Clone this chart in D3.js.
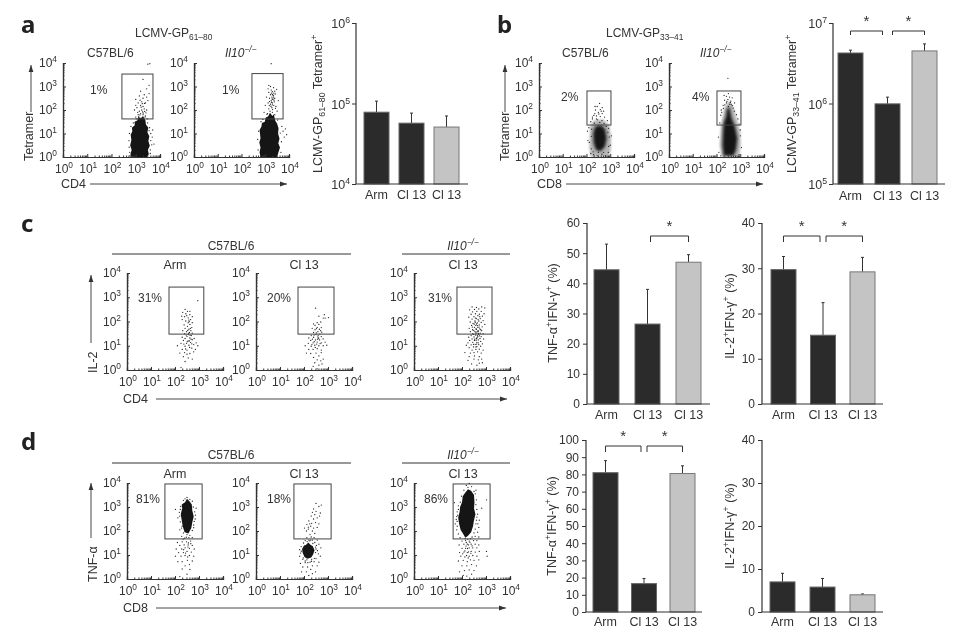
<!DOCTYPE html>
<html><head><meta charset="utf-8">
<script src="https://cdn.jsdelivr.net/npm/d3@7"></script>
<style>html,body{margin:0;padding:0;background:#fff}svg{display:block;filter:blur(.3px)}text{font-family:"Liberation Sans",Arial,sans-serif;fill:#333}</style>
</head><body><svg id="c" width="964" height="644"></svg>
<script>
// ---------- bar data ----------
const categories=["Arm","Cl 13","Cl 13"];
const aValues=[78000,57000,51000], aErr=[107000,76000,70000];
const bValues=[4240000,990000,4500000], bErr=[4600000,1200000,5500000];
const cTnfValues=[44.5,26.5,47], cTnfErr=[53,38,49.5];
const cIl2Values=[29.7,15.2,29.2], cIl2Err=[32.6,22.4,32.4];
const dTnfValues=[81,16.5,80.5], dTnfErr=[88,19.5,85];
const dIl2Values=[7,5.8,4], dIl2Err=[9,7.8,4.2];
const decadeTicks=[1,10,100,1000,10000];
const minorMultipliers=[2,3,4,5,6,7,8,9];
// ---------- flow plots, log10 coordinates ----------
const a1Core=[[2.82,0],[2.78,.12],[2.83,.3],[2.77,.5],[2.82,.72],[2.79,.95],[2.86,1.1],[2.84,1.25],[2.96,1.35],[2.95,1.5],[3.06,1.55],[3.1,1.7],[3.22,1.66],[3.3,1.74],[3.4,1.55],[3.42,1.38],[3.52,1.25],[3.48,1.05],[3.56,.88],[3.52,.68],[3.58,.48],[3.5,.3],[3.54,.12],[3.46,0]];
const a1Pts=[[3,1.7],[3.1,1.8],[3.2,1.85],[3.3,1.8],[3.4,1.75],[3.15,1.95],[3.25,2],[3.35,2.05],[3.05,2.1],[3.3,2.15],[3.2,2.2],[2.95,2],[3.45,2],[3.1,2.3],[3.25,2.35],[3.4,2.3],[3.5,2.4],[3,2.45],[3.3,2.5],[3.45,2.55],[3.15,2.6],[3.35,2.65],[3.55,2.7],[3.2,2.8],[3.45,2.9],[3.55,3.05],[3.5,3.95],[3.58,3.97],[3.3,3.3],[2.75,.2],[2.72,.7],[2.74,1],[2.8,1.3],[2.9,1.45],[3.6,.3],[3.62,.7],[3.62,1],[3.57,1.25],[3.49,1.45],[3.68,.85],[3.75,.55],[3.7,1.15],[3.38,1.7],[3.12,1.72],[3.22,2.12],[3.18,2.42],[3.36,2.28],[3.28,1.92],[3.42,1.88],[3.08,1.9],[3,2.2],[3.6,.15],[2.76,.05],[3.02,1.62],[3.47,1.62],[2.88,1.22],[3.55,1.12],[2.73,.42],[3.66,.52],[3.27,2.27],[3.31,1.87],[3.17,1.79],[3.37,1.94]];
const a2Core=[[2.8,0],[2.76,.2],[2.8,.4],[2.75,.62],[2.8,.8],[2.76,1.15],[2.84,1.3],[2.86,1.45],[2.98,1.5],[3.02,1.68],[3.12,1.72],[3.2,1.88],[3.3,1.74],[3.36,1.82],[3.42,1.55],[3.5,1.42],[3.56,1.22],[3.54,1],[3.6,.78],[3.55,.58],[3.62,.4],[3.54,.15],[3.5,0]];
const a2Pts=[[3.1,1.85],[3.2,1.95],[3.3,1.9],[3.4,1.8],[3.15,2.05],[3.28,2.1],[3.36,2.2],[3.22,2.25],[3.3,2.3],[3.38,2.35],[3.12,2.3],[3.45,2.15],[3.25,2.4],[3.32,2.45],[3.18,2.5],[3.4,2.5],[3.28,2.55],[3.35,2.6],[3.3,2.66],[3.22,2.65],[3.42,2.68],[3.15,2.75],[3.3,2.78],[3.4,2.8],[3.25,2.85],[3.48,2.88],[3.12,2.9],[3.35,2.95],[3.22,3],[3.05,2.55],[3,2.2],[2.95,1.9],[3.5,1.95],[3.55,2.4],[3.25,3.97],[3.15,3.05],[3.3,2.22],[3.34,2.52],[3.26,2.72],[3.36,2.72],[3.31,2.02],[3.24,2.16],[3.18,2.36],[3.8,.85],[3.75,1.1],[3.85,1.2],[3.9,.95],[3.68,.65],[3.7,1.3],[2.7,.3],[2.68,.75],[2.72,1.1],[2.82,1.5],[3.66,.2],[3.33,2.63],[3.29,2.47],[3.37,2.42],[3.26,2.33],[3.43,2.07],[3.17,2.19],[3.07,1.82],[3.52,1.57],[2.9,1.6],[3.63,1.02]];
const b1Halo=[[2.18,0],[2.12,.4],[2.14,.9],[2.15,1.3],[2.3,1.55],[2.7,1.6],[2.96,1.35],[3.04,.8],[3.02,.3],[2.95,0]];
const b1Core=[[2.4,.3],[2.3,.6],[2.28,1],[2.36,1.3],[2.6,1.36],[2.78,1.2],[2.85,.8],[2.78,.45],[2.6,.25]];
const b1Pts=[[2.25,1.7],[2.42,1.75],[2.58,1.72],[2.35,1.85],[2.5,1.9],[2.66,1.85],[2.38,2],[2.58,2.02],[2.45,2.15],[2.66,2.1],[2.55,2.28],[2.36,2.15],[2.72,1.95],[2.18,1.5],[2.88,1.55],[2.25,1.62],[2.76,1.7],[2.18,.15],[2.3,.1],[2.45,.05],[2.65,.12],[2.8,.05],[2.92,.2],[3,.5],[3.05,.9],[2.06,.7],[2.04,1.1],[2.5,.2],[2.2,.35],[2.9,1.05],[2.96,.85],[2.93,.45],[2.1,1.25],[2.42,1.62],[2.62,1.95],[2.28,.22],[2.72,.2],[2.12,.62],[2.2,.88],[2.93,1.22],[2.22,1.18],[2.56,1.47],[2.33,1.44],[2.74,1.42],[2.83,1.3],[2.47,1.58],[2.65,1.55],[2.52,1.83],[2.31,1.77]];
const b2Halo=[[2.22,0],[2.14,.5],[2.18,1.2],[2.26,1.7],[2.34,2.1],[2.52,2.4],[2.72,2.1],[2.86,1.6],[3,1.05],[3.02,.5],[2.95,0]];
const b2Core=[[2.3,.05],[2.25,.5],[2.27,1],[2.3,1.45],[2.4,1.72],[2.44,2.05],[2.55,2.12],[2.64,1.65],[2.78,1.3],[2.88,.8],[2.82,.3],[2.72,.05]];
const b2Pts=[[2.28,2.2],[2.42,2.3],[2.56,2.25],[2.66,2.18],[2.34,2.42],[2.48,2.45],[2.6,2.38],[2.76,2.3],[2.42,2.58],[2.55,2.55],[2.32,2.62],[2.66,2.52],[2.5,2.7],[2.48,3.35],[2.22,1.9],[2.84,1.8],[2.2,2],[2.14,1.45],[2.95,1.4],[3,.9],[3.05,.4],[2.1,.2],[2.08,.85],[2.95,.1],[2.18,.05],[2.35,2.22],[2.5,2.15],[2.58,2.32],[2.9,1.62],[2.75,1.95],[2.18,1.78],[2.7,2.08],[2.44,2.37],[2.29,2.07],[2.62,2.24],[3,1.15]];
const c1Pts=[[2.25,.1],[2.42,.35],[2.35,.55],[2.55,.5],[2.72,.45],[2.2,.7],[2.4,.72],[2.62,.68],[2.78,.75],[2.3,.85],[2.5,.82],[2.7,.9],[2.85,.85],[2.1,1],[2.42,.98],[2.58,1.02],[2.78,1.05],[2.95,1],[2.25,1.1],[2.48,1.1],[2.65,1.14],[2.88,1.12],[2.35,1.22],[2.55,1.2],[2.72,1.25],[2.42,1.3],[2.62,1.32],[2.8,1.3],[2.3,1.35],[2.5,1.38],[2.68,1.42],[2.55,1.46],[2.4,1.5],[2.72,1.52],[2.6,1.55],[2.48,1.58],[2.66,1.62],[2.32,1.62],[2.58,1.68],[2.42,1.72],[2.7,1.75],[2.52,1.8],[2.62,1.88],[2.38,1.86],[2.55,1.95],[2.72,1.95],[2.45,2.02],[2.65,2.08],[2.3,2.08],[2.55,2.15],[2.72,2.2],[2.4,2.2],[2.62,2.28],[2.32,2.38],[2.45,2.32],[2.28,2.22],[2.52,2.42],[2.62,2.42],[2.42,2.5],[2.95,2.86],[2.6,1.2],[2.5,.65],[2.7,1.08],[2.57,1.51],[2.63,1.43],[2.53,1.63],[2.47,1.44],[2.67,1.27],[2.59,2],[2.51,1.17],[2.44,.87],[2.61,.93],[2.37,1.07],[2.64,1.72],[2.49,2.24],[2.58,2.06]];
const c2Pts=[[2.55,.05],[2.38,.15],[2.62,.2],[2.75,.25],[2.45,.3],[2.7,.38],[2.55,.42],[2.8,.45],[2.4,.52],[2.62,.58],[2.1,.7],[2.28,.68],[2.5,.7],[2.72,.72],[2.2,.85],[2.38,.85],[2.55,.88],[2.72,.82],[2.05,1],[2.3,.98],[2.45,1.02],[2.62,1],[2.8,1],[2.95,1.02],[2.18,1.1],[2.38,1.12],[2.55,1.15],[2.72,1.12],[2.88,1.15],[2.28,1.22],[2.48,1.24],[2.65,1.24],[2.8,1.28],[2.2,1.32],[2.4,1.35],[2.58,1.36],[2.72,1.38],[2.3,1.42],[2.5,1.46],[2.66,1.48],[2.4,1.55],[2.58,1.58],[2.74,1.56],[2.46,1.66],[2.64,1.68],[2.34,1.72],[2.55,1.76],[2.72,1.75],[2.46,1.84],[2.62,1.88],[2.4,1.9],[2.55,1.95],[2.7,1.98],[2.8,2.14],[2.62,2.22],[3.02,2.16],[2.88,2.14],[2.48,2.55],[2.85,2.28],[2.43,1.17],[2.53,1.07],[2.35,1.27],[2.61,1.31],[2.67,1.09],[2.47,.93],[2.33,1.05],[2.51,1.53],[2.59,1.43],[2.42,1.44],[2.57,1.27],[2.69,1.62],[2.52,1.71]];
const c3Pts=[[2.4,.25],[2.62,.2],[2.72,.28],[2.85,.3],[2.25,.4],[2.5,.45],[2.68,.42],[2.82,.45],[2.3,.55],[2.52,.58],[2.72,.55],[2.12,.72],[2.35,.7],[2.5,.72],[2.65,.75],[2.8,.7],[2.42,.82],[2.58,.85],[2.72,.86],[2.88,.82],[2.3,.92],[2.48,.95],[2.62,.96],[2.78,.98],[2.18,1.02],[2.38,1.04],[2.55,1.06],[2.7,1.05],[2.85,1.08],[2.25,1.12],[2.45,1.14],[2.62,1.14],[2.78,1.18],[2.32,1.22],[2.52,1.22],[2.68,1.24],[2.42,1.28],[2.6,1.3],[2.75,1.3],[2.9,1.28],[2.28,1.35],[2.5,1.36],[2.66,1.38],[2.8,1.38],[2.38,1.42],[2.56,1.44],[2.7,1.46],[2.45,1.5],[2.62,1.52],[2.76,1.52],[2.88,1.5],[2.35,1.58],[2.54,1.58],[2.68,1.6],[2.82,1.62],[2.44,1.66],[2.6,1.68],[2.74,1.7],[2.3,1.72],[2.52,1.76],[2.66,1.76],[2.84,1.78],[2.4,1.84],[2.58,1.84],[2.72,1.86],[2.95,1.88],[2.46,1.92],[2.64,1.94],[2.8,1.96],[2.34,1.98],[2.54,2.02],[2.7,2.02],[2.88,2.04],[2.42,2.1],[2.6,2.12],[2.76,2.12],[2.28,2.18],[2.5,2.2],[2.66,2.24],[2.85,2.22],[2.38,2.3],[2.56,2.32],[2.72,2.3],[2.92,2.32],[2.44,2.4],[2.62,2.42],[2.8,2.42],[2.32,2.48],[2.52,2.5],[2.7,2.52],[2.95,2.56],[2.6,2.58],[2.42,2.6],[2.82,2.6],[2.58,.95],[2.64,1.42],[2.58,1.7],[2.67,1.62],[2.6,1.9],[2.68,1.12],[2.63,1.33],[2.57,1.53],[2.73,1.41],[2.49,1.63],[2.65,1.83],[2.53,1.27],[2.61,1.07],[2.47,1.47],[2.71,1.77],[2.59,1.23],[2.55,1.97],[2.67,2.08],[2.43,1.77],[2.63,1.58],[2.78,1.66],[2.51,1.89],[2.69,1.51],[2.56,2.14],[2.74,2.2],[2.48,1.06]];
const d1Core=[[2.4,1.95],[2.32,2.2],[2.28,2.45],[2.24,2.7],[2.3,2.95],[2.28,3.1],[2.42,3.2],[2.5,3.34],[2.62,3.22],[2.7,3.1],[2.72,2.85],[2.78,2.6],[2.72,2.35],[2.68,2.12],[2.56,1.9]];
const d1Pts=[[2.2,.1],[2.5,.2],[2.62,.4],[2.3,.42],[2.42,.55],[2.6,.6],[2.12,.72],[2.3,.72],[2.52,.78],[2.72,.75],[2.02,.95],[2.25,.95],[2.42,.98],[2.6,.98],[2.78,.95],[2.15,1.1],[2.35,1.1],[2.5,1.15],[2.68,1.12],[2.05,1.25],[2.28,1.25],[2.42,1.3],[2.6,1.28],[2.8,1.25],[2.2,1.4],[2.38,1.42],[2.55,1.42],[2.72,1.4],[2.1,1.52],[2.3,1.55],[2.48,1.55],[2.65,1.58],[2.4,1.7],[2.58,1.72],[2.72,1.72],[2.28,1.78],[2.5,1.85],[2.62,1.82],[2.35,1.92],[2.45,2],[2.72,2.02],[2.2,2.05],[2.3,2.2],[2.78,2.25],[2.22,2.38],[2.84,2.5],[2.2,2.62],[2.18,2.78],[2.82,2.8],[2.76,3],[2.24,3.02],[2.35,3.28],[2.72,3.24],[2.5,3.4],[2.62,3.32],[2.42,3.34],[2.12,2.55],[2.88,2.95],[2.02,2.9],[2.22,2.9],[2.8,2.4],[2.56,1.5],[2.47,1.74],[2.36,1.22],[2.54,1.33],[2.44,1.08],[2.53,.92],[2.66,1.47],[2.34,1.66],[2.85,2.66],[2.78,2.14],[2.27,2.12]];
const d2Core=[[2.02,.92],[1.94,1.1],[1.92,1.25],[2,1.4],[2.08,1.42],[2.18,1.52],[2.28,1.42],[2.36,1.38],[2.44,1.2],[2.38,1.02],[2.3,.9],[2.14,.84]];
const d2Pts=[[2,.05],[2.2,.15],[2.35,.22],[1.9,.3],[2.1,.3],[2.28,.4],[2.48,.3],[1.95,.5],[2.15,.5],[2.35,.55],[2.55,.55],[1.85,.65],[2.05,.68],[2.25,.7],[2.42,.72],[2.62,.7],[1.95,.82],[2.12,.8],[2.32,.82],[2.5,.85],[1.82,.95],[2.68,.95],[1.86,1.08],[2.48,1.1],[2.6,1.05],[1.82,1.22],[2.5,1.25],[2.7,1.3],[1.88,1.35],[2.52,1.4],[2.62,1.45],[1.98,1.5],[2.45,1.52],[2.05,1.6],[2.2,1.62],[2.35,1.62],[2.55,1.62],[2.12,1.72],[2.3,1.75],[2.42,1.72],[2.25,1.85],[2.45,1.9],[2.1,2],[2.35,2],[2.02,2.12],[2.18,2.16],[2.28,2.2],[2.4,2.12],[2.55,2.15],[2.12,2.28],[2.32,2.32],[2.48,2.35],[2.62,2.3],[2.2,2.42],[2.4,2.5],[2.55,2.55],[2.3,2.62],[2.45,2.68],[2.65,2.62],[2.35,2.78],[2.5,2.82],[2.68,2.75],[2.4,2.92],[2.62,3.02],[2.72,3.08],[2.5,3.15],[2.05,.75],[2.28,1.62],[2.16,.68],[2.31,.74],[1.97,.88],[2.43,.86],[1.89,1.16],[2.56,1.18],[2.48,1.33],[2.13,1.56],[2.24,1.59],[2.37,1.48],[2.18,2.08],[2.24,2.3]];
const d3Core=[[2.05,1.88],[1.94,2.05],[1.88,2.3],[1.84,2.55],[1.9,2.8],[1.92,3],[2,3.2],[2.03,3.45],[2.14,3.6],[2.25,3.74],[2.38,3.68],[2.5,3.5],[2.52,3.2],[2.5,2.95],[2.56,2.7],[2.5,2.45],[2.46,2.2],[2.38,1.95],[2.25,1.8],[2.14,1.72]];
const d3Pts=[[2.05,.15],[2.2,.12],[2.4,.2],[1.9,.3],[2.1,.35],[2.3,.38],[2.5,.35],[2,.55],[2.2,.55],[2.4,.6],[2.6,.55],[1.85,.75],[2.05,.78],[2.22,.72],[2.35,.8],[2.5,.78],[2.7,.8],[1.95,.95],[2.12,.92],[2.3,.95],[2.45,.98],[2.62,.95],[3.05,.95],[1.9,1.1],[2.08,1.12],[2.22,1.1],[2.38,1.15],[2.55,1.12],[2.72,1.15],[3.02,1.15],[2,1.28],[2.15,1.28],[2.3,1.3],[2.45,1.3],[2.62,1.3],[1.88,1.42],[2.08,1.45],[2.22,1.45],[2.38,1.45],[2.55,1.45],[2.7,1.42],[2,1.58],[2.15,1.6],[2.3,1.58],[2.48,1.6],[2.62,1.6],[1.92,1.72],[2.42,1.75],[2.55,1.78],[2.7,1.75],[1.85,1.88],[2.5,1.92],[2.65,1.95],[1.78,2.05],[2.55,2.08],[2.7,2.15],[1.72,2.3],[1.8,2.4],[2.58,2.3],[2.72,2.45],[1.78,2.6],[2.62,2.58],[2.65,2.7],[1.8,2.8],[1.85,2.9],[2.62,2.9],[2.82,2.95],[1.85,3.05],[2.58,3.1],[1.68,3.18],[1.93,3.2],[2.6,3.3],[1.98,3.45],[2.55,3.55],[3.02,3.3],[2.08,3.7],[2.5,3.65],[2.25,3.82],[2.4,3.85],[2.3,3.98],[2.18,3.9],[2.58,3.7],[2.23,1.27],[2.27,1.13],[2.17,1.37],[2.33,1.53],[2.12,1.17],[2.26,.88],[2.18,1.52],[2.37,1.07],[2.13,1.68],[2.24,1.66],[2.36,1.68],[2.42,1.38],[2.03,1.05],[2.27,1.42],[2.19,.98],[1.8,2.2],[1.76,2.48],[2.6,2.45],[2.66,2.3],[1.82,2.66]];
// ---------- gates in log10 coordinates ----------
const gateA1=[2.43,3.71,1.62,3.53],gateA2=[2.44,3.75,1.62,3.55],gateB=[2.02,3.03,1.36,2.81];
const gateC1=[1.75,3.2,1.48,3.42],gateC2=[1.75,3.25,1.48,3.42],gateC3=[1.79,3.25,1.48,3.42];
const gateD1=[1.58,3.13,1.67,3.96],gateD2=[1.58,3.13,1.67,3.96],gateD3=[1.63,3.17,1.67,3.96];

const svg=d3.select("#c"),INK="#333";
function rich(x,y,segs,o={}){
  const t=svg.append("text").attr("x",x).attr("y",y).attr("font-size",o.size||12).attr("text-anchor",o.anchor||"start");
  if(o.rot) t.attr("transform",`rotate(-90 ${x} ${y})`);
  let shift=0;
  segs.forEach(s=>{
    const seg=typeof s==="string"?{t:s}:s, target=seg.sup?-5:seg.sub?3:0;
    const ts=t.append("tspan").text(seg.t).attr("dy",target-shift);
    shift=target;
    if(seg.sup||seg.sub) ts.attr("font-size",(o.size||12)*.7);
    if(seg.it) ts.attr("font-style","italic");
  });
  return t;
}
const il10=[{t:"Il10",it:1},{t:"−/−",sup:1,it:1}];
function arrow(x1,y1,x2,y2){
  svg.append("line").attr("x1",x1).attr("y1",y1).attr("x2",x2).attr("y2",y2).attr("stroke",INK).attr("stroke-width",.9);
  const a=Math.atan2(y2-y1,x2-x1)*180/Math.PI;
  svg.append("path").attr("d","M0,0L-7,-2.4L-7,2.4Z").attr("fill",INK).attr("transform",`translate(${x2},${y2}) rotate(${a})`);
}
function flow(x0,x1,yb,yt,gate,pts,core,halo){
  const sx=d3.scaleLog().domain([1,1e4]).range([x0,x1]), sy=d3.scaleLog().domain([1,1e4]).range([yb,yt]);
  const lg=v=>10**v, g=svg.append("g");
  const area=d3.line().x(d=>sx(lg(d[0]))).y(d=>sy(lg(d[1])));
  if(halo) g.append("path").attr("d",area(halo)+"Z").attr("fill","#b5b5b5").style("filter","blur(1px)");
  if(core) g.append("path").attr("d",area(core)+"Z").attr("fill","#151515").style("filter",halo?"blur(1.4px)":"blur(.5px)");
  g.selectAll("circle").data(pts).join("circle").attr("cx",d=>sx(lg(d[0]))).attr("cy",d=>sy(lg(d[1]))).attr("r",.65).attr("fill","#222");
  g.append("rect").attr("x",sx(lg(gate[0]))).attr("width",sx(lg(gate[1]))-sx(lg(gate[0]))).attr("y",sy(lg(gate[3]))).attr("height",sy(lg(gate[2]))-sy(lg(gate[3]))).attr("fill","none").attr("stroke","#444").attr("stroke-width",1);
  const minor=decadeTicks.slice(0,4).flatMap(d=>minorMultipliers.map(m=>d*m));
  const styleAxis=a=>{a.select(".domain").attr("stroke",INK).attr("stroke-width",1.2);a.selectAll(".tick line").attr("stroke",INK)};
  const xm=g.append("g").attr("transform",`translate(0,${yb})`).call(d3.axisBottom(sx).tickValues(minor).tickSize(-1.5).tickFormat(""));styleAxis(xm);
  const ym=g.append("g").attr("transform",`translate(${x0},0)`).call(d3.axisLeft(sy).tickValues(minor).tickSize(-1.5).tickFormat(""));styleAxis(ym);
  const xa=g.append("g").attr("transform",`translate(0,${yb})`).call(d3.axisBottom(sx).tickValues(decadeTicks).tickSize(-3).tickPadding(7).tickFormat(""));styleAxis(xa);
  const ya=g.append("g").attr("transform",`translate(${x0},0)`).call(d3.axisLeft(sy).tickValues(decadeTicks).tickSize(-3).tickPadding(6).tickFormat(""));styleAxis(ya);
  decadeTicks.forEach((d,i)=>{
    rich(sx(d)+1,yb+16,["10",{t:String(i),sup:1}],{anchor:"middle"});
    rich(x0-6,sy(d)+4,["10",{t:String(i),sup:1}],{anchor:"end"});
  });
}
function bars(cfg){
  const y=cfg.y, bw=25, step=(cfg.x1-cfg.x0-bw)/2, gap=cfg.gap||3, dip=cfg.dip||6;
  const x=d3.scaleBand().domain(d3.range(3)).range([cfg.x0,cfg.x1]).paddingInner(1-bw/step).paddingOuter(0);
  const base=y.range()[0], g=svg.append("g");
  const ya=g.append("g").attr("transform",`translate(${cfg.axisX},0)`).call(d3.axisLeft(y).tickValues(cfg.ticks).tickSize(4).tickPadding(3).tickFormat(cfg.log?"":d=>d));
  ya.select(".domain").attr("stroke",INK).attr("stroke-width",1.2).attr("d",`M0,${y.range()[1]}V${base}`);
  ya.selectAll(".tick line").attr("stroke",INK);
  ya.selectAll(".tick text").attr("font-size",12).attr("font-family","Liberation Sans").attr("fill",INK);
  if(cfg.log) cfg.ticks.forEach(t=>rich(cfg.axisX-6,y(t)+5,["10",{t:String(Math.round(Math.log10(t))),sup:1}],{anchor:"end",size:12.5}));
  categories.forEach((c,i)=>{
    const top=y(cfg.err[i]), cx=x(i)+bw/2;
    g.append("line").attr("x1",cx).attr("x2",cx).attr("y1",top).attr("y2",y(cfg.values[i])).attr("stroke",INK);
    g.append("line").attr("x1",cx-1.5).attr("x2",cx+1.5).attr("y1",top).attr("y2",top).attr("stroke",INK);
    g.append("rect").attr("x",x(i)).attr("width",bw).attr("y",y(cfg.values[i])).attr("height",base-y(cfg.values[i]))
      .attr("fill",i==2?"#c4c4c4":"#2b2b2b").attr("stroke",i==2?"#777":"#666").attr("stroke-width",1);
    rich(cx,cfg.labelY,[c],{anchor:"middle",size:12.5});
  });
  g.append("line").attr("x1",cfg.axisX).attr("x2",cfg.baseEnd).attr("y1",base).attr("y2",base).attr("stroke",INK).attr("stroke-width",1.2);
  (cfg.brackets||[]).forEach(b=>{
    const l=x(b[0])+bw/2+(b[0]==1?gap:0), r=x(b[1])+bw/2-(b[1]==1?gap:0);
    g.append("path").attr("d",`M${l},${cfg.bracketY+dip}V${cfg.bracketY}H${r}V${cfg.bracketY+dip}`).attr("fill","none").attr("stroke",INK);
    rich((l+r)/2,cfg.bracketY-5,["*"],{anchor:"middle",size:15});
  });
}
// panel letters
[["a",21,33],["b",497,33],["c",21,232],["d",21,450]].forEach(d=>svg.append("text").attr("x",d[1]).attr("y",d[2]).text(d[0]).attr("font-size",24).attr("font-weight",700).style("font-family","'Noto Sans'").style("fill","#222"));
// panel a
rich(135,37,["LCMV-GP",{t:"61–80",sub:1}]);
rich(87,57,["C57BL/6"]);rich(225,57,il10);
flow(63,160,157,63,gateA1,a1Pts,a1Core);flow(194,289,157,63,gateA2,a2Pts,a2Core);
rich(90,94,["1%"]);rich(222,94,["1%"]);
rich(33,161,["Tetramer"],{rot:1,size:12.5});arrow(31,112,31,65);
rich(61,188,["CD4"],{size:12.5});arrow(90,184,287,184);
bars({y:d3.scaleLog().domain([1e4,1e6]).range([184,23]),log:1,ticks:[1e4,1e5,1e6],values:aValues,err:aErr,x0:364,x1:459,axisX:356,baseEnd:468,labelY:199});
rich(322,173,["LCMV-GP",{t:"61–80",sub:1}," Tetramer",{t:"+",sup:1}],{rot:1,size:12.5});
// panel b
rich(606,37,["LCMV-GP",{t:"33–41",sub:1}]);
rich(562,57,["C57BL/6"]);rich(700,57,il10);
flow(539,634,157,63,gateB,b1Pts,b1Core,b1Halo);flow(669,764,157,63,gateB,b2Pts,b2Core,b2Halo);
rich(561,101,["2%"]);rich(692,101,["4%"]);
rich(509,161,["Tetramer"],{rot:1,size:12.5});arrow(505,112,505,65);
rich(537,188,["CD8"],{size:12.5});arrow(566,184,763,184);
bars({y:d3.scaleLog().domain([1e5,1e7]).range([184,23]),log:1,ticks:[1e5,1e6,1e7],values:bValues,err:bErr,x0:838,x1:937,axisX:833,baseEnd:945,labelY:200,brackets:[[0,1],[1,2]],bracketY:31,gap:5,dip:4});
rich(796,173,["LCMV-GP",{t:"33–41",sub:1}," Tetramer",{t:"+",sup:1}],{rot:1,size:12.5});
// panel c
[[112,351,254],[402,510,254],[112,351,463],[402,510,463]].forEach(d=>svg.append("line").attr("x1",d[0]).attr("x2",d[1]).attr("y1",d[2]).attr("y2",d[2]).attr("stroke",INK));
rich(231,250,["C57BL/6"],{anchor:"middle"});rich(463,250,il10,{anchor:"middle"});
rich(175,269,["Arm"],{anchor:"middle",size:12.5});rich(304,269,["Cl 13"],{anchor:"middle",size:12.5});rich(463,269,["Cl 13"],{anchor:"middle",size:12.5});
flow(127,223,370,273,gateC1,c1Pts);flow(256,352,370,273,gateC2,c2Pts);flow(414,510,370,273,gateC3,c3Pts);
rich(138,302,["31%"]);rich(267,302,["20%"]);rich(428,302,["31%"]);
rich(97,373,["IL-2"],{rot:1,size:12.5});arrow(91,343,91,275);
rich(123,403,["CD4"],{size:12.5});arrow(156,399,507,399);
const tnf=["TNF-α",{t:"+",sup:1},"IFN-γ",{t:"+",sup:1}," (%)"], il2=["IL-2",{t:"+",sup:1},"IFN-γ",{t:"+",sup:1}," (%)"];
const t60=[0,10,20,30,40,50,60],t40=[0,10,20,30,40],t100=[0,10,20,30,40,50,60,70,80,90,100];
bars({y:d3.scaleLinear().domain([0,60]).range([404,223]),ticks:t60,values:cTnfValues,err:cTnfErr,x0:594,x1:701,axisX:587,baseEnd:710,labelY:419,brackets:[[1,2]],bracketY:236});
rich(557,313,tnf,{rot:1,size:12.5,anchor:"middle"});
bars({y:d3.scaleLinear().domain([0,40]).range([404,223]),ticks:t40,values:cIl2Values,err:cIl2Err,x0:771,x1:875,axisX:762,baseEnd:883,labelY:419,brackets:[[0,1],[1,2]],bracketY:236});
rich(734,316,il2,{rot:1,size:12.5,anchor:"middle"});
// panel d
rich(231,459,["C57BL/6"],{anchor:"middle"});rich(463,459,il10,{anchor:"middle"});
rich(175,478,["Arm"],{anchor:"middle",size:12.5});rich(304,478,["Cl 13"],{anchor:"middle",size:12.5});rich(463,478,["Cl 13"],{anchor:"middle",size:12.5});
flow(127,223,579,483,gateD1,d1Pts,d1Core);flow(256,352,579,483,gateD2,d2Pts,d2Core);flow(414,510,579,483,gateD3,d3Pts,d3Core);
rich(136,503,["81%"]);rich(267,503,["18%"]);rich(424,503,["86%"]);
rich(97,582,["TNF-α"],{rot:1,size:12.5});arrow(91,538,91,483);
rich(123,612,["CD8"],{size:12.5});arrow(156,608,506,608);
bars({y:d3.scaleLinear().domain([0,100]).range([612,440]),ticks:t100,values:dTnfValues,err:dTnfErr,x0:593,x1:695,axisX:586,baseEnd:702,labelY:626,brackets:[[0,1],[1,2]],bracketY:446});
rich(556,526,tnf,{rot:1,size:12.5,anchor:"middle"});
bars({y:d3.scaleLinear().domain([0,40]).range([612,440]),ticks:t40,values:dIl2Values,err:dIl2Err,x0:770,x1:875,axisX:762,baseEnd:883,labelY:626});
rich(734,526,il2,{rot:1,size:12.5,anchor:"middle"});
</script></body></html>
